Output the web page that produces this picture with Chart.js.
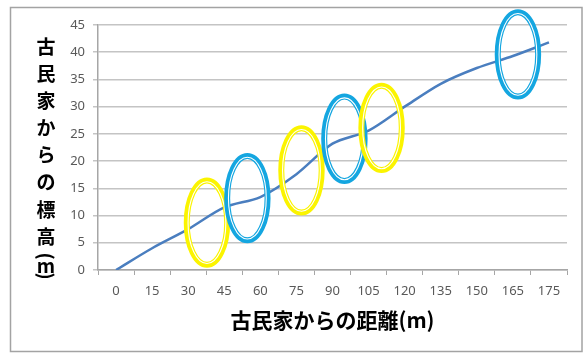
<!DOCTYPE html>
<html>
<head>
<meta charset="utf-8">
<script src="https://cdn.jsdelivr.net/npm/chart.js@4"></script>
<style>
  html, body { margin: 0; padding: 0; background: #fff; }
  #wrap { width: 587px; height: 354px; position: relative; }
</style>
</head>
<body>
<div id="wrap"><canvas id="elevChart"></canvas></div>
<script>
// distance from the old house (m) - category labels
const distances = ['0', '15', '30', '45', '60', '75', '90', '105', '120', '135', '150', '165', '175'];
// elevation relative to the old house (m)
const elevations = [0, 4.0, 7.5, 11.5, 13.4, 17.6, 23.2, 25.6, 30.0, 34.2, 37.1, 39.3, 41.8];
const yTicksMax = 45;
const yStep = 5;

// highlighted spots: category position, elevation, colour
const markX = [2.52, 3.64, 5.14, 6.33, 7.36, 11.14];
const markY = [8.7, 13.2, 18.3, 24.1, 26.1, 39.6];
const markColor = ['#fbf400', '#14a6e0', '#fbf400', '#14a6e0', '#fbf400', '#14a6e0'];
const markRx = 0.56;  // in categories
const markRy = 7.75;  // in metres

const xTitle = '古民家からの距離(m)';
const yTitle = '古民家からの標高(m)';

const frame = {
    id: 'frame',
    beforeDraw(chart) {
        const ctx = chart.ctx;
        ctx.save();
        ctx.fillStyle = '#fff';
        ctx.fillRect(0, 0, chart.width, chart.height);
        ctx.strokeStyle = '#a3a3a3';
        ctx.lineWidth = 1.5;
        ctx.strokeRect(10.5, 7.5, 571.5, 344);
        ctx.restore();
    }
};

const ellipses = {
    id: 'ellipses',
    afterDatasetsDraw(chart) {
        const ctx = chart.ctx;
        const xs = chart.scales.x, ys = chart.scales.y;
        ctx.save();
        markX.forEach((mx, i) => {
            const cx = xs.getPixelForValue(mx);
            const cy = ys.getPixelForValue(markY[i]);
            const rx = Math.abs(xs.getPixelForValue(mx + markRx) - cx);
            const ry = Math.abs(ys.getPixelForValue(markY[i] + markRy) - cy);
            ctx.beginPath();
            ctx.ellipse(cx, cy, rx, ry, 0, 0, Math.PI * 2);
            ctx.strokeStyle = markColor[i];
            ctx.lineWidth = 6;
            ctx.stroke();
            ctx.beginPath();
            ctx.ellipse(cx, cy, rx - 1.3, ry - 1.3, 0, 0, Math.PI * 2);
            ctx.strokeStyle = '#fff';
            ctx.lineWidth = 1.1;
            ctx.stroke();
        });
        ctx.restore();
    }
};

// vertical, stacked y-axis title
const yTitleDraw = {
    id: 'yTitleDraw',
    afterDraw(chart) {
        const ctx = chart.ctx;
        ctx.save();
        ctx.fillStyle = '#000';
        ctx.font = 'bold 19px "Noto Sans CJK JP"';
        ctx.textAlign = 'center';
        ctx.textBaseline = 'middle';
        let cursor = 33.2;
        for (const ch of yTitle) {
            const isParen = ch === '(' || ch === ')';
            const h = /[\u3000-\u9fff]/.test(ch) ? 27.1 : (isParen ? 10 : 12);
            const cy = cursor + h / 2;
            if (isParen) {
                ctx.save();
                ctx.translate(46, cy + (ch === '(' ? 1 : -1));
                ctx.rotate(Math.PI / 2);
                ctx.fillText(ch, 0, 0);
                ctx.restore();
            } else {
                ctx.fillText(ch, 46, cy);
            }
            cursor += h;
        }
        ctx.restore();
    }
};

new Chart(document.getElementById('elevChart'), {
    type: 'line',
    data: {
        labels: distances,
        datasets: [{
            data: elevations,
            borderColor: '#4a7ebf',
            borderWidth: 2.5,
            pointRadius: 0,
            tension: 0.3,
            fill: false
        }]
    },
    options: {
        responsive: true,
        maintainAspectRatio: false,
        animation: false,
        layout: { padding: { top: 25, right: 20, bottom: 0, left: 0 } },
        plugins: {
            legend: { display: false },
            tooltip: { enabled: false }
        },
        scales: {
            x: {
                offset: true,
                afterFit(scale) { scale.height = 84; },
                grid: {
                    offset: true,
                    drawOnChartArea: false,
                    drawTicks: true,
                    tickLength: 5,
                    color: '#a6a6a6'
                },
                border: { color: '#a6a6a6', width: 1.5 },
                ticks: {
                    color: '#595959',
                    padding: 8,
                    maxRotation: 0,
                    autoSkip: false,
                    font: { family: '"Noto Sans"', size: 13 }
                },
                title: {
                    display: true,
                    text: xTitle,
                    color: '#000',
                    font: { family: '"Noto Sans CJK JP"', size: 21, weight: 'bold' },
                    padding: { top: 4, bottom: 21 }
                }
            },
            y: {
                min: 0,
                max: yTicksMax,
                afterFit(scale) { scale.width = 98; },
                grid: {
                    color: '#c4c4c4',
                    lineWidth: 1.5,
                    tickLength: 5
                },
                border: { color: '#a6a6a6', width: 1.5 },
                ticks: {
                    stepSize: yStep,
                    color: '#595959',
                    padding: 8,
                    font: { family: '"Noto Sans"', size: 13 }
                }
            }
        }
    },
    plugins: [frame, ellipses, yTitleDraw]
});
</script>
</body>
</html>
